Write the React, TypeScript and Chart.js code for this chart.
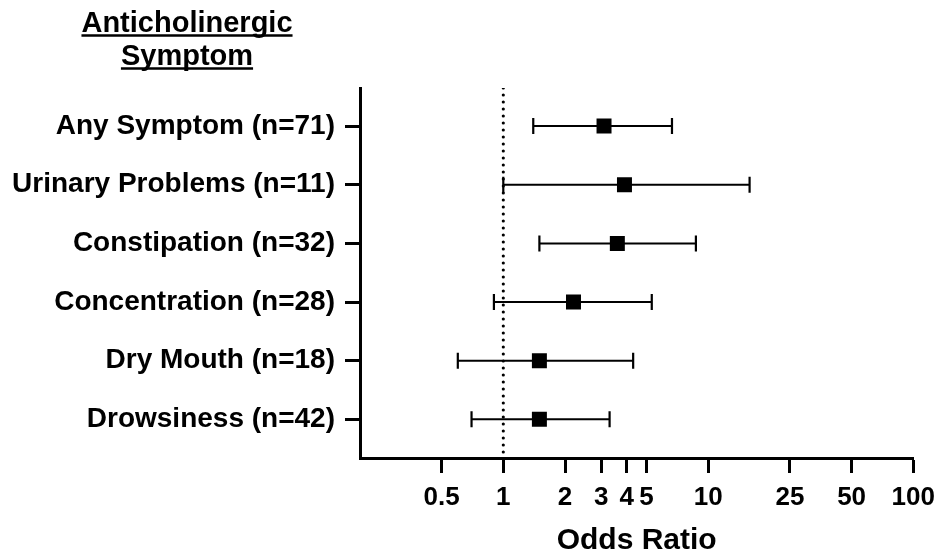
import React, { useEffect, useRef } from "react";
import { Chart, registerables } from "chart.js";

Chart.register(...registerables);

const categories = [
  "Any Symptom (n=71)",
  "Urinary Problems (n=11)",
  "Constipation (n=32)",
  "Concentration (n=28)",
  "Dry Mouth (n=18)",
  "Drowsiness (n=42)",
];
const oddsRatios = [3.1, 3.9, 3.6, 2.2, 1.5, 1.5];
const ciLower = [1.4, 1.0, 1.5, 0.9, 0.6, 0.7];
const ciUpper = [6.65, 15.9, 8.7, 5.3, 4.3, 3.3];
const xTickValues = [0.5, 1, 2, 3, 4, 5, 10, 25, 50, 100];
const referenceValue = 1;
const titleLines = ["Anticholinergic", "Symptom"];
const xAxisTitle = "Odds Ratio";

const FONT = "'Liberation Sans', Arial, Helvetica, sans-serif";

export default function App() {
  const ref = useRef<HTMLCanvasElement | null>(null);

  useEffect(() => {
    if (!ref.current) return;
    const yMin = -0.65;
    const yMax = 5.66;

    const datasets: any[] = [];
    datasets.push({
      label: "Odds ratio",
      data: oddsRatios.map((v, i) => ({ x: v, y: i })),
      showLine: false,
      pointStyle: "rect",
      pointRadius: 10.6,
      pointHoverRadius: 10.6,
      backgroundColor: "#000",
      borderColor: "#000",
      pointBorderWidth: 0,
      order: 0,
    });
    categories.forEach((_, i) => {
      datasets.push({
        label: "CI " + i,
        data: [
          { x: ciLower[i], y: i },
          { x: ciUpper[i], y: i },
        ],
        showLine: true,
        borderColor: "#000",
        borderWidth: 2,
        pointStyle: "line",
        pointRotation: 90,
        pointRadius: 8,
        pointHoverRadius: 8,
        pointBorderWidth: 2.2,
        pointBorderColor: "#000",
        pointBackgroundColor: "#000",
        order: 1,
      });
    });
    datasets.push({
      label: "Reference",
      data: [
        { x: referenceValue, y: yMin },
        { x: referenceValue, y: yMax },
      ],
      showLine: true,
      borderColor: "#000",
      borderWidth: 3.2,
      borderDash: [0, 7],
      borderCapStyle: "round",
      pointRadius: 0,
      order: 2,
    });

    const titlePlugin = {
      id: "leftTitle",
      afterDraw(chart: any) {
        const ctx = chart.ctx;
        ctx.save();
        ctx.fillStyle = "#000";
        ctx.strokeStyle = "#000";
        ctx.font = `bold 29px ${FONT}`;
        ctx.textAlign = "center";
        ctx.textBaseline = "alphabetic";
        const cx = 187;
        const baselines = [32, 65];
        titleLines.forEach((t, i) => {
          ctx.fillText(t, cx, baselines[i]);
          const w = ctx.measureText(t).width;
          ctx.lineWidth = 2.5;
          ctx.beginPath();
          ctx.moveTo(cx - w / 2, baselines[i] + 3.5);
          ctx.lineTo(cx + w / 2, baselines[i] + 3.5);
          ctx.stroke();
        });
        ctx.restore();
      },
    };

    const chart = new Chart(ref.current, {
      type: "scatter",
      data: { datasets },
      plugins: [titlePlugin],
      options: {
        animation: false,
        responsive: false,
        devicePixelRatio: 1,
        layout: { padding: { top: 88, right: 27, left: 0, bottom: 0 } },
        plugins: {
          legend: { display: false },
          tooltip: { enabled: false },
        },
        scales: {
          x: {
            type: "logarithmic",
            position: "bottom",
            min: 0.2,
            max: 100,
            afterBuildTicks: (s: any) => {
              s.ticks = xTickValues.map((v) => ({ value: v }));
            },
            afterFit: (s: any) => {
              s.height = 98;
            },
            ticks: {
              autoSkip: false,
              maxRotation: 0,
              padding: 9,
              color: "#000",
              font: { family: FONT, size: 26, weight: "bold" },
              callback: (v: any) => String(v),
            },
            grid: {
              display: true,
              drawOnChartArea: false,
              drawTicks: true,
              tickLength: 15,
              tickWidth: 3,
              tickColor: "#000",
            },
            border: { display: true, width: 3, color: "#000" },
            title: {
              display: true,
              text: xAxisTitle,
              color: "#000",
              font: { family: FONT, size: 30, weight: "bold", lineHeight: 1.0 },
              padding: { top: 0, bottom: 0 },
            },
          },
          y: {
            type: "linear",
            reverse: true,
            min: yMin,
            max: yMax,
            afterBuildTicks: (s: any) => {
              s.ticks = categories.map((_, i) => ({ value: i }));
            },
            afterFit: (s: any) => {
              s.width = 360;
            },
            ticks: {
              autoSkip: false,
              padding: 10,
              color: "#000",
              font: { family: FONT, size: 28, weight: "bold" },
              callback: (v: any) => categories[v] ?? "",
            },
            grid: {
              display: true,
              drawOnChartArea: false,
              drawTicks: true,
              tickLength: 15,
              tickWidth: 3,
              tickColor: "#000",
            },
            border: { display: true, width: 3, color: "#000" },
          },
        },
      } as any,
    });

    return () => chart.destroy();
  }, []);

  return (
    <div style={{ position: "fixed", left: 0, top: 0, width: 944, height: 556, background: "#fff" }}>
      <canvas ref={ref} width={944} height={556} style={{ width: 944, height: 556, display: "block" }} />
    </div>
  );
}
